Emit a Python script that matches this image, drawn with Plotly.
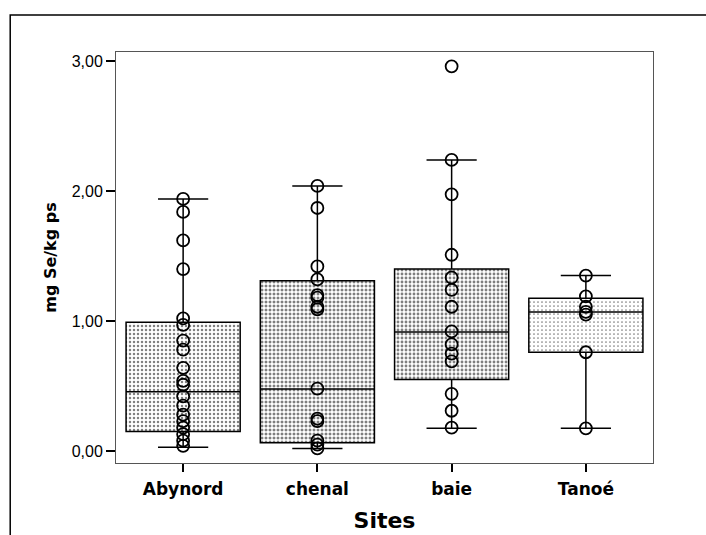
import plotly.graph_objects as go

# Sampling sites
sites = ["Abynord", "chenal", "baie", "Tanoé"]

# Box statistics per site (mg Se/kg ps)
q1 = [0.15, 0.064, 0.55, 0.76]
median = [0.456, 0.477, 0.915, 1.07]
q3 = [0.99, 1.31, 1.40, 1.175]
lower_whisker = [0.03, 0.02, 0.175, 0.175]
upper_whisker = [1.94, 2.04, 2.24, 1.35]

# Individual measurements per site
abynord_vals = [1.94, 1.84, 1.62, 1.40, 1.02, 0.97, 0.85, 0.78, 0.64, 0.54, 0.51,
                0.42, 0.35, 0.28, 0.23, 0.18, 0.13, 0.08, 0.04]
chenal_vals = [2.04, 1.87, 1.42, 1.32, 1.20, 1.18, 1.11, 1.09, 0.48, 0.25, 0.23,
               0.08, 0.05, 0.02]
baie_vals = [2.96, 2.24, 1.975, 1.51, 1.335, 1.24, 1.11, 0.92, 0.82, 0.75, 0.69,
             0.44, 0.31, 0.18]
tanoe_vals = [1.35, 1.19, 1.11, 1.07, 1.05, 0.76, 0.175]
site_values = [abynord_vals, chenal_vals, baie_vals, tanoe_vals]

# Stipple density of each box fill
stipple = [0.30, 0.44, 0.40, 0.15]

BOLD = "DejaVu Sans, Arial, sans-serif"

fig = go.Figure()

# Stippled box bodies (interquartile range)
fig.add_trace(go.Bar(
    x=sites,
    y=[b - a for a, b in zip(q1, q3)],
    base=q1,
    width=0.85,
    marker=dict(
        color="white",
        line=dict(color="black", width=0),
        pattern=dict(shape=".", fgcolor="black", bgcolor="white",
                     size=4, solidity=stipple),
    ),
    hoverinfo="skip",
    showlegend=False,
))

# Box outlines, medians and whiskers
fig.add_trace(go.Box(
    x=sites,
    q1=q1,
    median=median,
    q3=q3,
    lowerfence=lower_whisker,
    upperfence=upper_whisker,
    width=0.85,
    whiskerwidth=0.44,
    fillcolor="rgba(0,0,0,0)",
    line=dict(color="black", width=1.5),
    boxpoints=False,
    showlegend=False,
))

# Measured values as open circles
px, py = [], []
for s, vals in zip(sites, site_values):
    px += [s] * len(vals)
    py += vals
fig.add_trace(go.Scatter(
    x=px, y=py, mode="markers",
    marker=dict(symbol="circle-open", size=12, color="black",
                line=dict(width=1.8, color="black")),
    showlegend=False,
))

fig.update_layout(
    width=706, height=535,
    margin=dict(l=116, r=53, t=52, b=72),
    paper_bgcolor="white", plot_bgcolor="white",
    separators=", ",
    font=dict(family="Liberation Sans, Arial, sans-serif", color="black"),
    shapes=[dict(type="rect", xref="paper", yref="paper",
                 x0=-0.197, y0=-0.5, x1=1.6, y1=1.09,
                 line=dict(color="black", width=1.5), layer="below")],
)

fig.update_xaxes(
    type="category", range=[-0.5, 3.5], automargin=False,
    showline=True, mirror=True, linecolor="#555", linewidth=1,
    ticks="outside", ticklen=8, tickwidth=2, tickcolor="black",
    ticklabelstandoff=3,
    tickfont=dict(size=17, family=BOLD, weight="bold"),
    title=dict(text="Sites", font=dict(size=22, family=BOLD, weight="bold"), standoff=14),
    showgrid=False,
)
fig.update_yaxes(
    range=[-0.092, 3.07], automargin=False,
    tickvals=[0, 1, 2, 3], tickformat=".2f",
    showline=True, mirror=True, linecolor="#555", linewidth=1,
    ticks="outside", ticklen=9, tickwidth=2, tickcolor="black",
    tickfont=dict(size=16),
    title=dict(text="mg Se/kg ps", font=dict(size=16, family=BOLD, weight="bold"), standoff=11),
    showgrid=False, zeroline=False,
)

fig.write_html("out.html")
